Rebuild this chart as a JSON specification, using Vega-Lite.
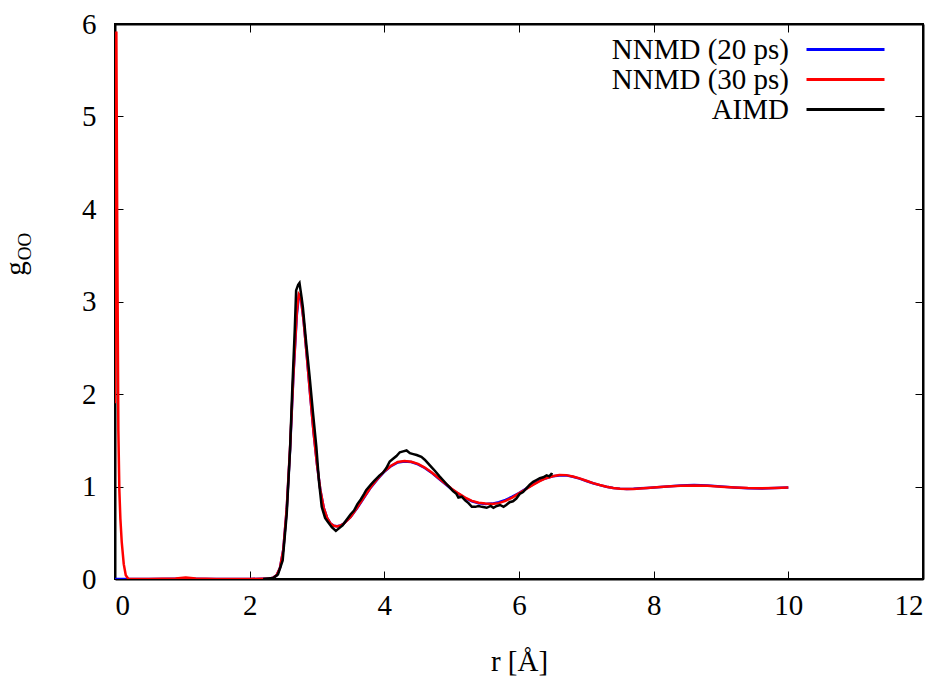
{
  "$schema": "https://vega.github.io/schema/vega-lite/v6.json",
  "width": 808,
  "height": 555,
  "autosize": {"type": "none"},
  "padding": {"left": 115, "top": 24, "right": 27, "bottom": 106},
  "background": "white",
  "config": {
    "font": "Liberation Serif",
    "view": {"stroke": "black", "strokeWidth": 2},
    "axis": {
      "grid": false,
      "domainColor": "black",
      "domainWidth": 2,
      "tickColor": "black",
      "tickWidth": 1,
      "tickSize": -8,
      "labelFont": "Liberation Serif",
      "labelFontSize": 29,
      "labelColor": "black",
      "titleFont": "Liberation Serif",
      "titleFontSize": 29,
      "titleFontWeight": "normal",
      "titleColor": "black"
    },
    "legend": {
      "labelFont": "Liberation Serif",
      "labelFontSize": 29,
      "labelColor": "black"
    }
  },
  "data": {
    "values": [
      {"s": "NNMD (20 ps)", "r": 0, "g": 0},
      {"s": "NNMD (20 ps)", "r": 0.5, "g": 0},
      {"s": "NNMD (20 ps)", "r": 1.0, "g": 0.004},
      {"s": "NNMD (20 ps)", "r": 1.5, "g": 0},
      {"s": "NNMD (20 ps)", "r": 2.0, "g": 0},
      {"s": "NNMD (20 ps)", "r": 2.3, "g": 0.005},
      {"s": "NNMD (20 ps)", "r": 2.35, "g": 0.015},
      {"s": "NNMD (20 ps)", "r": 2.4, "g": 0.04},
      {"s": "NNMD (20 ps)", "r": 2.45, "g": 0.12},
      {"s": "NNMD (20 ps)", "r": 2.5, "g": 0.32},
      {"s": "NNMD (20 ps)", "r": 2.55, "g": 0.75},
      {"s": "NNMD (20 ps)", "r": 2.6, "g": 1.4},
      {"s": "NNMD (20 ps)", "r": 2.65, "g": 2.2},
      {"s": "NNMD (20 ps)", "r": 2.7, "g": 2.85},
      {"s": "NNMD (20 ps)", "r": 2.73, "g": 3.06},
      {"s": "NNMD (20 ps)", "r": 2.76, "g": 3.04},
      {"s": "NNMD (20 ps)", "r": 2.8, "g": 2.8},
      {"s": "NNMD (20 ps)", "r": 2.85, "g": 2.4},
      {"s": "NNMD (20 ps)", "r": 2.9, "g": 1.98},
      {"s": "NNMD (20 ps)", "r": 2.95, "g": 1.58},
      {"s": "NNMD (20 ps)", "r": 3.0, "g": 1.24},
      {"s": "NNMD (20 ps)", "r": 3.05, "g": 0.96},
      {"s": "NNMD (20 ps)", "r": 3.1, "g": 0.77},
      {"s": "NNMD (20 ps)", "r": 3.15, "g": 0.66},
      {"s": "NNMD (20 ps)", "r": 3.2, "g": 0.6},
      {"s": "NNMD (20 ps)", "r": 3.25, "g": 0.575},
      {"s": "NNMD (20 ps)", "r": 3.3, "g": 0.57},
      {"s": "NNMD (20 ps)", "r": 3.35, "g": 0.58},
      {"s": "NNMD (20 ps)", "r": 3.4, "g": 0.6},
      {"s": "NNMD (20 ps)", "r": 3.5, "g": 0.67},
      {"s": "NNMD (20 ps)", "r": 3.6, "g": 0.77},
      {"s": "NNMD (20 ps)", "r": 3.7, "g": 0.88},
      {"s": "NNMD (20 ps)", "r": 3.8, "g": 0.99},
      {"s": "NNMD (20 ps)", "r": 3.9, "g": 1.08},
      {"s": "NNMD (20 ps)", "r": 4.0, "g": 1.16},
      {"s": "NNMD (20 ps)", "r": 4.1, "g": 1.22},
      {"s": "NNMD (20 ps)", "r": 4.2, "g": 1.26},
      {"s": "NNMD (20 ps)", "r": 4.3, "g": 1.27},
      {"s": "NNMD (20 ps)", "r": 4.4, "g": 1.265},
      {"s": "NNMD (20 ps)", "r": 4.5, "g": 1.24},
      {"s": "NNMD (20 ps)", "r": 4.6, "g": 1.2},
      {"s": "NNMD (20 ps)", "r": 4.7, "g": 1.15},
      {"s": "NNMD (20 ps)", "r": 4.8, "g": 1.09},
      {"s": "NNMD (20 ps)", "r": 4.9, "g": 1.03},
      {"s": "NNMD (20 ps)", "r": 5.0, "g": 0.97},
      {"s": "NNMD (20 ps)", "r": 5.1, "g": 0.92},
      {"s": "NNMD (20 ps)", "r": 5.2, "g": 0.875},
      {"s": "NNMD (20 ps)", "r": 5.3, "g": 0.84},
      {"s": "NNMD (20 ps)", "r": 5.4, "g": 0.82},
      {"s": "NNMD (20 ps)", "r": 5.5, "g": 0.81},
      {"s": "NNMD (20 ps)", "r": 5.6, "g": 0.815},
      {"s": "NNMD (20 ps)", "r": 5.7, "g": 0.83},
      {"s": "NNMD (20 ps)", "r": 5.8, "g": 0.855},
      {"s": "NNMD (20 ps)", "r": 5.9, "g": 0.89},
      {"s": "NNMD (20 ps)", "r": 6.0, "g": 0.93},
      {"s": "NNMD (20 ps)", "r": 6.1, "g": 0.975},
      {"s": "NNMD (20 ps)", "r": 6.2, "g": 1.02},
      {"s": "NNMD (20 ps)", "r": 6.3, "g": 1.06},
      {"s": "NNMD (20 ps)", "r": 6.4, "g": 1.09},
      {"s": "NNMD (20 ps)", "r": 6.5, "g": 1.11},
      {"s": "NNMD (20 ps)", "r": 6.6, "g": 1.12},
      {"s": "NNMD (20 ps)", "r": 6.7, "g": 1.12},
      {"s": "NNMD (20 ps)", "r": 6.8, "g": 1.105},
      {"s": "NNMD (20 ps)", "r": 6.9, "g": 1.085},
      {"s": "NNMD (20 ps)", "r": 7.0, "g": 1.06},
      {"s": "NNMD (20 ps)", "r": 7.1, "g": 1.035},
      {"s": "NNMD (20 ps)", "r": 7.2, "g": 1.015},
      {"s": "NNMD (20 ps)", "r": 7.3, "g": 0.998},
      {"s": "NNMD (20 ps)", "r": 7.4, "g": 0.985},
      {"s": "NNMD (20 ps)", "r": 7.5, "g": 0.977},
      {"s": "NNMD (20 ps)", "r": 7.6, "g": 0.973},
      {"s": "NNMD (20 ps)", "r": 7.7, "g": 0.975},
      {"s": "NNMD (20 ps)", "r": 7.8, "g": 0.98},
      {"s": "NNMD (20 ps)", "r": 7.9, "g": 0.985},
      {"s": "NNMD (20 ps)", "r": 8.0, "g": 0.99},
      {"s": "NNMD (20 ps)", "r": 8.2, "g": 1.0},
      {"s": "NNMD (20 ps)", "r": 8.4, "g": 1.01},
      {"s": "NNMD (20 ps)", "r": 8.6, "g": 1.015},
      {"s": "NNMD (20 ps)", "r": 8.8, "g": 1.01},
      {"s": "NNMD (20 ps)", "r": 9.0, "g": 1.0},
      {"s": "NNMD (20 ps)", "r": 9.2, "g": 0.99},
      {"s": "NNMD (20 ps)", "r": 9.4, "g": 0.982},
      {"s": "NNMD (20 ps)", "r": 9.6, "g": 0.978},
      {"s": "NNMD (20 ps)", "r": 9.8, "g": 0.983},
      {"s": "NNMD (20 ps)", "r": 10.0, "g": 0.99},

      {"s": "NNMD (30 ps)", "r": 0, "g": 1.9},
      {"s": "NNMD (30 ps)", "r": 0.02, "g": 5.92},
      {"s": "NNMD (30 ps)", "r": 0.035, "g": 3.5},
      {"s": "NNMD (30 ps)", "r": 0.05, "g": 1.6},
      {"s": "NNMD (30 ps)", "r": 0.065, "g": 0.95},
      {"s": "NNMD (30 ps)", "r": 0.08, "g": 0.65},
      {"s": "NNMD (30 ps)", "r": 0.1, "g": 0.4},
      {"s": "NNMD (30 ps)", "r": 0.13, "g": 0.16},
      {"s": "NNMD (30 ps)", "r": 0.16, "g": 0.04},
      {"s": "NNMD (30 ps)", "r": 0.2, "g": 0},
      {"s": "NNMD (30 ps)", "r": 0.5, "g": 0},
      {"s": "NNMD (30 ps)", "r": 0.9, "g": 0.005},
      {"s": "NNMD (30 ps)", "r": 1.05, "g": 0.015},
      {"s": "NNMD (30 ps)", "r": 1.2, "g": 0.005},
      {"s": "NNMD (30 ps)", "r": 1.5, "g": 0},
      {"s": "NNMD (30 ps)", "r": 2.0, "g": 0},
      {"s": "NNMD (30 ps)", "r": 2.3, "g": 0.005},
      {"s": "NNMD (30 ps)", "r": 2.35, "g": 0.015},
      {"s": "NNMD (30 ps)", "r": 2.4, "g": 0.04},
      {"s": "NNMD (30 ps)", "r": 2.45, "g": 0.12},
      {"s": "NNMD (30 ps)", "r": 2.5, "g": 0.32},
      {"s": "NNMD (30 ps)", "r": 2.55, "g": 0.76},
      {"s": "NNMD (30 ps)", "r": 2.6, "g": 1.42},
      {"s": "NNMD (30 ps)", "r": 2.65, "g": 2.22},
      {"s": "NNMD (30 ps)", "r": 2.7, "g": 2.88},
      {"s": "NNMD (30 ps)", "r": 2.73, "g": 3.08},
      {"s": "NNMD (30 ps)", "r": 2.76, "g": 3.05},
      {"s": "NNMD (30 ps)", "r": 2.8, "g": 2.8},
      {"s": "NNMD (30 ps)", "r": 2.85, "g": 2.4},
      {"s": "NNMD (30 ps)", "r": 2.9, "g": 1.98},
      {"s": "NNMD (30 ps)", "r": 2.95, "g": 1.58},
      {"s": "NNMD (30 ps)", "r": 3.0, "g": 1.24},
      {"s": "NNMD (30 ps)", "r": 3.05, "g": 0.96},
      {"s": "NNMD (30 ps)", "r": 3.1, "g": 0.77},
      {"s": "NNMD (30 ps)", "r": 3.15, "g": 0.66},
      {"s": "NNMD (30 ps)", "r": 3.2, "g": 0.6},
      {"s": "NNMD (30 ps)", "r": 3.25, "g": 0.575},
      {"s": "NNMD (30 ps)", "r": 3.3, "g": 0.568},
      {"s": "NNMD (30 ps)", "r": 3.35, "g": 0.578},
      {"s": "NNMD (30 ps)", "r": 3.4, "g": 0.6},
      {"s": "NNMD (30 ps)", "r": 3.5, "g": 0.67},
      {"s": "NNMD (30 ps)", "r": 3.6, "g": 0.775},
      {"s": "NNMD (30 ps)", "r": 3.7, "g": 0.885},
      {"s": "NNMD (30 ps)", "r": 3.8, "g": 0.995},
      {"s": "NNMD (30 ps)", "r": 3.9, "g": 1.085},
      {"s": "NNMD (30 ps)", "r": 4.0, "g": 1.165},
      {"s": "NNMD (30 ps)", "r": 4.1, "g": 1.225},
      {"s": "NNMD (30 ps)", "r": 4.2, "g": 1.265},
      {"s": "NNMD (30 ps)", "r": 4.3, "g": 1.275},
      {"s": "NNMD (30 ps)", "r": 4.4, "g": 1.268},
      {"s": "NNMD (30 ps)", "r": 4.5, "g": 1.245},
      {"s": "NNMD (30 ps)", "r": 4.6, "g": 1.205},
      {"s": "NNMD (30 ps)", "r": 4.7, "g": 1.155},
      {"s": "NNMD (30 ps)", "r": 4.8, "g": 1.095},
      {"s": "NNMD (30 ps)", "r": 4.9, "g": 1.035},
      {"s": "NNMD (30 ps)", "r": 5.0, "g": 0.975},
      {"s": "NNMD (30 ps)", "r": 5.1, "g": 0.925},
      {"s": "NNMD (30 ps)", "r": 5.2, "g": 0.88},
      {"s": "NNMD (30 ps)", "r": 5.3, "g": 0.845},
      {"s": "NNMD (30 ps)", "r": 5.4, "g": 0.825},
      {"s": "NNMD (30 ps)", "r": 5.5, "g": 0.815},
      {"s": "NNMD (30 ps)", "r": 5.6, "g": 0.81},
      {"s": "NNMD (30 ps)", "r": 5.7, "g": 0.82},
      {"s": "NNMD (30 ps)", "r": 5.8, "g": 0.845},
      {"s": "NNMD (30 ps)", "r": 5.9, "g": 0.88},
      {"s": "NNMD (30 ps)", "r": 6.0, "g": 0.925},
      {"s": "NNMD (30 ps)", "r": 6.1, "g": 0.97},
      {"s": "NNMD (30 ps)", "r": 6.2, "g": 1.015},
      {"s": "NNMD (30 ps)", "r": 6.3, "g": 1.055},
      {"s": "NNMD (30 ps)", "r": 6.4, "g": 1.09},
      {"s": "NNMD (30 ps)", "r": 6.5, "g": 1.11},
      {"s": "NNMD (30 ps)", "r": 6.6, "g": 1.125},
      {"s": "NNMD (30 ps)", "r": 6.7, "g": 1.123},
      {"s": "NNMD (30 ps)", "r": 6.8, "g": 1.108},
      {"s": "NNMD (30 ps)", "r": 6.9, "g": 1.088},
      {"s": "NNMD (30 ps)", "r": 7.0, "g": 1.062},
      {"s": "NNMD (30 ps)", "r": 7.1, "g": 1.037},
      {"s": "NNMD (30 ps)", "r": 7.2, "g": 1.016},
      {"s": "NNMD (30 ps)", "r": 7.3, "g": 0.998},
      {"s": "NNMD (30 ps)", "r": 7.4, "g": 0.984},
      {"s": "NNMD (30 ps)", "r": 7.5, "g": 0.975},
      {"s": "NNMD (30 ps)", "r": 7.6, "g": 0.972},
      {"s": "NNMD (30 ps)", "r": 7.7, "g": 0.974},
      {"s": "NNMD (30 ps)", "r": 7.8, "g": 0.979},
      {"s": "NNMD (30 ps)", "r": 7.9, "g": 0.985},
      {"s": "NNMD (30 ps)", "r": 8.0, "g": 0.99},
      {"s": "NNMD (30 ps)", "r": 8.2, "g": 1.0},
      {"s": "NNMD (30 ps)", "r": 8.4, "g": 1.008},
      {"s": "NNMD (30 ps)", "r": 8.6, "g": 1.012},
      {"s": "NNMD (30 ps)", "r": 8.8, "g": 1.008},
      {"s": "NNMD (30 ps)", "r": 9.0, "g": 0.998},
      {"s": "NNMD (30 ps)", "r": 9.2, "g": 0.99},
      {"s": "NNMD (30 ps)", "r": 9.4, "g": 0.983},
      {"s": "NNMD (30 ps)", "r": 9.6, "g": 0.98},
      {"s": "NNMD (30 ps)", "r": 9.8, "g": 0.984},
      {"s": "NNMD (30 ps)", "r": 10.0, "g": 0.99},

      {"s": "AIMD", "r": 2.2, "g": 0},
      {"s": "AIMD", "r": 2.35, "g": 0.01},
      {"s": "AIMD", "r": 2.42, "g": 0.05},
      {"s": "AIMD", "r": 2.49, "g": 0.2},
      {"s": "AIMD", "r": 2.55, "g": 0.7},
      {"s": "AIMD", "r": 2.6, "g": 1.4},
      {"s": "AIMD", "r": 2.63, "g": 2.0},
      {"s": "AIMD", "r": 2.67, "g": 2.7},
      {"s": "AIMD", "r": 2.69, "g": 3.12},
      {"s": "AIMD", "r": 2.72, "g": 3.18},
      {"s": "AIMD", "r": 2.74, "g": 3.2},
      {"s": "AIMD", "r": 2.77, "g": 3.05},
      {"s": "AIMD", "r": 2.79, "g": 2.94},
      {"s": "AIMD", "r": 2.84, "g": 2.55},
      {"s": "AIMD", "r": 2.89, "g": 2.19},
      {"s": "AIMD", "r": 2.94, "g": 1.8},
      {"s": "AIMD", "r": 2.99, "g": 1.43},
      {"s": "AIMD", "r": 3.03, "g": 1.05},
      {"s": "AIMD", "r": 3.07, "g": 0.78},
      {"s": "AIMD", "r": 3.12, "g": 0.66},
      {"s": "AIMD", "r": 3.16, "g": 0.62},
      {"s": "AIMD", "r": 3.22, "g": 0.56},
      {"s": "AIMD", "r": 3.28, "g": 0.52},
      {"s": "AIMD", "r": 3.33, "g": 0.55},
      {"s": "AIMD", "r": 3.38, "g": 0.58},
      {"s": "AIMD", "r": 3.44, "g": 0.64},
      {"s": "AIMD", "r": 3.5, "g": 0.7},
      {"s": "AIMD", "r": 3.55, "g": 0.74},
      {"s": "AIMD", "r": 3.6, "g": 0.81},
      {"s": "AIMD", "r": 3.65, "g": 0.86},
      {"s": "AIMD", "r": 3.7, "g": 0.92},
      {"s": "AIMD", "r": 3.73, "g": 0.96},
      {"s": "AIMD", "r": 3.8, "g": 1.02},
      {"s": "AIMD", "r": 3.85, "g": 1.06},
      {"s": "AIMD", "r": 3.93, "g": 1.12},
      {"s": "AIMD", "r": 3.98, "g": 1.15},
      {"s": "AIMD", "r": 4.03, "g": 1.2},
      {"s": "AIMD", "r": 4.08, "g": 1.27},
      {"s": "AIMD", "r": 4.13, "g": 1.3},
      {"s": "AIMD", "r": 4.18, "g": 1.33},
      {"s": "AIMD", "r": 4.23, "g": 1.37},
      {"s": "AIMD", "r": 4.28, "g": 1.38},
      {"s": "AIMD", "r": 4.33, "g": 1.39},
      {"s": "AIMD", "r": 4.38, "g": 1.36},
      {"s": "AIMD", "r": 4.43, "g": 1.35},
      {"s": "AIMD", "r": 4.48, "g": 1.34},
      {"s": "AIMD", "r": 4.55, "g": 1.32},
      {"s": "AIMD", "r": 4.6, "g": 1.29},
      {"s": "AIMD", "r": 4.65, "g": 1.25},
      {"s": "AIMD", "r": 4.7, "g": 1.21},
      {"s": "AIMD", "r": 4.75, "g": 1.17},
      {"s": "AIMD", "r": 4.82, "g": 1.11},
      {"s": "AIMD", "r": 4.87, "g": 1.07},
      {"s": "AIMD", "r": 4.92, "g": 1.03},
      {"s": "AIMD", "r": 4.97, "g": 0.99},
      {"s": "AIMD", "r": 5.02, "g": 0.95},
      {"s": "AIMD", "r": 5.07, "g": 0.92},
      {"s": "AIMD", "r": 5.1, "g": 0.88},
      {"s": "AIMD", "r": 5.15, "g": 0.89},
      {"s": "AIMD", "r": 5.2, "g": 0.85},
      {"s": "AIMD", "r": 5.25, "g": 0.82},
      {"s": "AIMD", "r": 5.3, "g": 0.78},
      {"s": "AIMD", "r": 5.35, "g": 0.78},
      {"s": "AIMD", "r": 5.4, "g": 0.79},
      {"s": "AIMD", "r": 5.45, "g": 0.78},
      {"s": "AIMD", "r": 5.52, "g": 0.77},
      {"s": "AIMD", "r": 5.58, "g": 0.79},
      {"s": "AIMD", "r": 5.62, "g": 0.77},
      {"s": "AIMD", "r": 5.67, "g": 0.79},
      {"s": "AIMD", "r": 5.72, "g": 0.8},
      {"s": "AIMD", "r": 5.77, "g": 0.78},
      {"s": "AIMD", "r": 5.81, "g": 0.8},
      {"s": "AIMD", "r": 5.86, "g": 0.83},
      {"s": "AIMD", "r": 5.91, "g": 0.84},
      {"s": "AIMD", "r": 5.96, "g": 0.87},
      {"s": "AIMD", "r": 6.01, "g": 0.92},
      {"s": "AIMD", "r": 6.06, "g": 0.94},
      {"s": "AIMD", "r": 6.11, "g": 0.98},
      {"s": "AIMD", "r": 6.16, "g": 1.02},
      {"s": "AIMD", "r": 6.21, "g": 1.05},
      {"s": "AIMD", "r": 6.26, "g": 1.07},
      {"s": "AIMD", "r": 6.31, "g": 1.09},
      {"s": "AIMD", "r": 6.36, "g": 1.1},
      {"s": "AIMD", "r": 6.41, "g": 1.12},
      {"s": "AIMD", "r": 6.45, "g": 1.11},
      {"s": "AIMD", "r": 6.48, "g": 1.135},
      {"s": "AIMD", "r": 6.5, "g": 1.13}
    ]
  },
  "layer": [
    {
      "mark": {"type": "line", "strokeWidth": 2.5, "clip": true},
      "encoding": {
        "x": {
          "field": "r", "type": "quantitative",
          "scale": {"domain": [0, 12], "nice": false, "zero": false},
          "axis": {"values": [0, 2, 4, 6, 8, 10, 12], "title": "r [Å]", "labelPadding": 20, "titlePadding": 27}
        },
        "y": {
          "field": "g", "type": "quantitative",
          "scale": {"domain": [0, 6], "nice": false},
          "axis": {
            "values": [0, 1, 2, 3, 4, 5, 6], "title": "g", "labelPadding": 27,
            "titleX": -91, "titleY": 244, "titleAngle": -90, "titleAlign": "center", "titleBaseline": "alphabetic"
          }
        },
        "color": {
          "field": "s", "type": "nominal",
          "scale": {"domain": ["NNMD (20 ps)", "NNMD (30 ps)", "AIMD"], "range": ["#0000ff", "#ff0000", "#000000"]},
          "legend": {
            "title": null,
            "orient": "none",
            "legendX": 716,
            "legendY": 11,
            "symbolType": "M-3,0H3",
            "symbolSize": 676,
            "symbolStrokeWidth": 3,
            "labelAlign": "right",
            "labelOffset": -71,
            "labelLimit": 400,
            "rowPadding": 0
          }
        },
        "order": {"field": "r", "type": "quantitative"}
      }
    },
    {
      "mark": {"type": "line", "opacity": 0},
      "encoding": {
        "x": {
          "field": "r", "type": "quantitative",
          "axis": {"orient": "top", "values": [0, 2, 4, 6, 8, 10, 12], "labels": false, "title": null}
        },
        "y": {
          "field": "g", "type": "quantitative",
          "axis": {"orient": "right", "values": [0, 1, 2, 3, 4, 5, 6], "labels": false, "title": null}
        },
        "detail": {"field": "s"}
      }
    },
    {
      "mark": {"type": "line", "opacity": 0},
      "encoding": {
        "x": {
          "field": "r", "type": "quantitative",
          "axis": null
        },
        "y": {
          "field": "g", "type": "quantitative",
          "axis": {
            "orient": "left", "labels": false, "ticks": false, "domain": false, "title": "OO",
            "titleFontSize": 19, "titleX": -85, "titleY": 222, "titleAngle": -90, "titleAlign": "center", "titleBaseline": "alphabetic"
          }
        },
        "detail": {"field": "s"}
      }
    }
  ],
  "resolve": {"axis": {"x": "independent", "y": "independent"}}
}
